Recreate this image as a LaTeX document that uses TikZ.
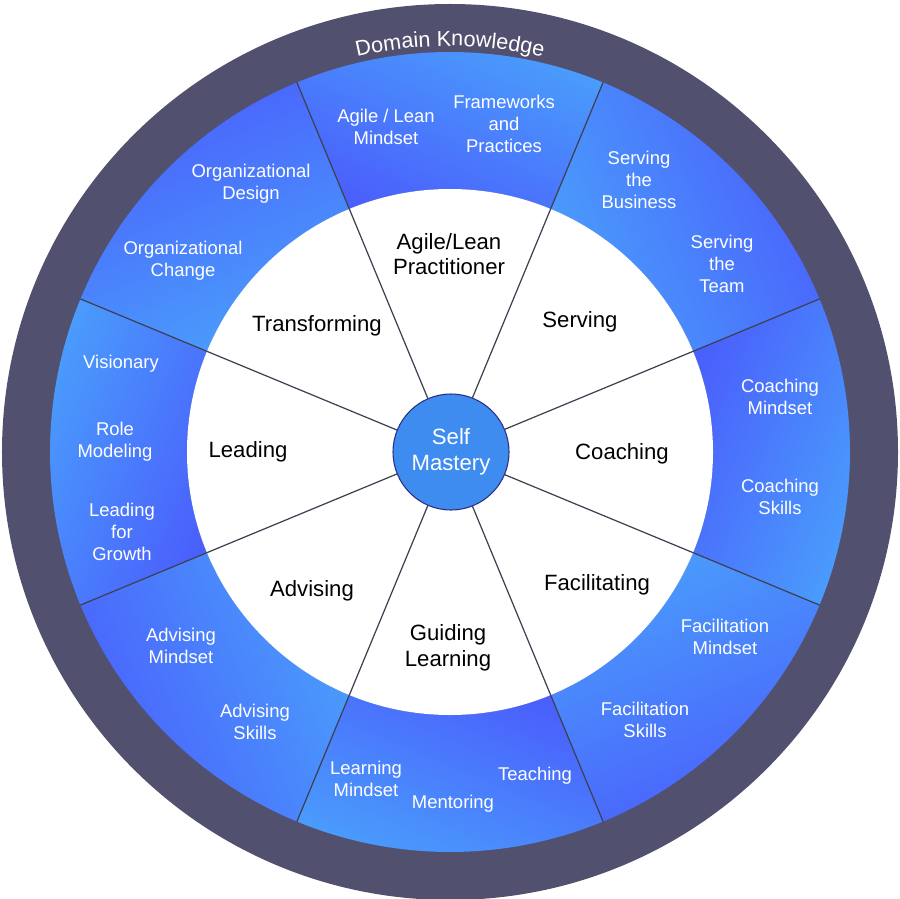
\documentclass[tikz,border=0pt]{standalone}
\usepackage{fontspec}
\setmainfont{Liberation Sans}
\usetikzlibrary{decorations.text}
\definecolor{outerc}{HTML}{51506F}
\definecolor{lightb}{HTML}{4A9DFC}
\definecolor{darkb}{HTML}{4A60FC}
\definecolor{centerc}{HTML}{3F8CF0}
\definecolor{spoke}{HTML}{3E4150}
\tikzset{
 wl/.style={text=white,align=center,font=\fontsize{10.5}{12.4}\selectfont},
 bl/.style={text=black,align=center,font=\fontsize{12.6}{14.6}\selectfont},
}
\begin{document}
\begin{tikzpicture}[scale=0.02]
\useasboundingbox (-450,-446) rectangle (450,452);
\fill[outerc] (0,0) circle (448);
\foreach \k in {0,...,7}{
 \pgfmathsetmacro{\a}{22.5+45*\k}
 \pgfmathsetmacro{\b}{67.5+45*\k}
 \pgfmathsetmacro{\s}{mod(\k,2)==0 ? \a+90 : \a+270}
 \shade[left color=lightb,right color=darkb,shading angle=\s]
   (\a:263) arc (\a:\b:263) -- (\b:400) arc (\b:\a:400) -- cycle;
}
\fill[white] (0,0) circle (263);
\foreach \k in {0,...,7}{
 \pgfmathsetmacro{\a}{22.5+45*\k}
 \coordinate (s\k) at (\a:400);
 \draw[spoke,line width=0.7pt] (0,0) -- (s\k);
}
\node[circle,fill=centerc,draw=spoke!70!blue,line width=0.6pt,minimum size=2.32cm,text=white,align=center,font=\fontsize{12.6}{14.6}\selectfont] (c) at (1,0) {Self\\Mastery};
\path[decorate,decoration={text along path,text align=center,text={|\fontsize{12.3}{14}\selectfont\color{white}|Domain Knowledge}}]
 (140:406) arc (140:40:406);
\node[bl] (n1) at (-1,198) {Agile/Lean\\Practitioner};
\node[bl] (n2) at (130,130) {Serving};
\node[bl] (n3) at (172,-2) {Coaching};
\node[bl] (n4) at (147,-133) {Facilitating};
\node[bl] (n5) at (-2,-196) {Guiding\\Learning};
\node[bl] (n6) at (-138,-139) {Advising};
\node[bl] (n7) at (-202,0) {Leading};
\node[bl] (n8) at (-133,126) {Transforming};
\node[wl] (b1) at (-64,325) {Agile / Lean\\Mindset};
\node[wl] (b2) at (54,328) {Frameworks\\and\\Practices};
\node[wl] (b3) at (189,272) {Serving\\the\\Business};
\node[wl] (b4) at (272,188) {Serving\\the\\Team};
\node[wl] (b5) at (330,55) {Coaching\\Mindset};
\node[wl] (b6) at (330,-45) {Coaching\\Skills};
\node[wl] (b7) at (275,-185) {Facilitation\\Mindset};
\node[wl] (b8) at (195,-268) {Facilitation\\Skills};
\node[wl] (b9) at (85,-324) {Teaching};
\node[wl] (b10) at (3,-352) {Mentoring};
\node[wl] (b11) at (-84,-327) {Learning\\Mindset};
\node[wl] (b12) at (-195,-270) {Advising\\Skills};
\node[wl] (b13) at (-269,-194) {Advising\\Mindset};
\node[wl] (b14) at (-328,-80) {Leading\\for\\Growth};
\node[wl] (b15) at (-335,10) {Role\\Modeling};
\node[wl] (b16) at (-329,88) {Visionary};
\node[wl] (b17) at (-267,191) {Organizational\\Change};
\node[wl] (b18) at (-199,268) {Organizational\\Design};
\end{tikzpicture}
\end{document}
